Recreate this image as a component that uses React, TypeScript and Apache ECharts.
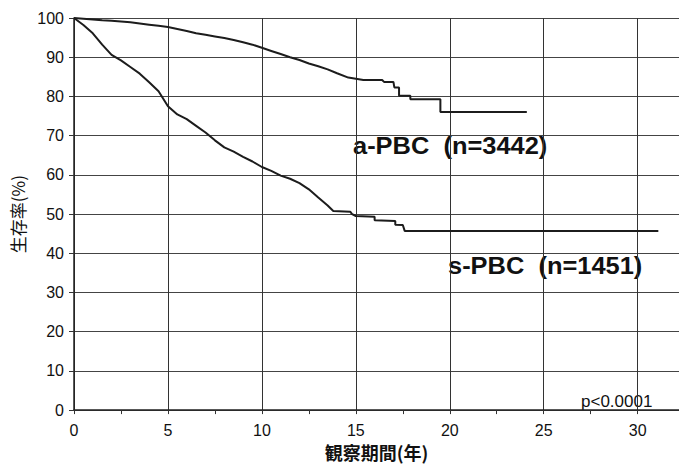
import React, { useEffect, useRef } from "react";
import * as echarts from "echarts";

const xTicks = [0, 5, 10, 15, 20, 25, 30];
const yTicks = [0, 10, 20, 30, 40, 50, 60, 70, 80, 90, 100];

const aPbcYears = [0, 0.5, 1, 1.5, 2, 2.5, 3, 3.5, 4, 4.5, 5, 5.5, 6, 6.5, 7, 7.5, 8, 8.5, 9, 9.5, 10, 10.5, 11, 11.5, 12, 12.5, 13, 13.5, 14, 14.6, 15.4, 16.4, 16.5, 17.0, 17.05, 17.3, 17.3, 17.9, 17.9, 19.5, 19.5, 24.1];
const aPbcSurv = [100, 99.8, 99.6, 99.4, 99.3, 99.1, 98.9, 98.6, 98.3, 98.0, 97.7, 97.2, 96.7, 96.1, 95.7, 95.3, 94.9, 94.4, 93.8, 93.2, 92.4, 91.6, 90.8, 90.0, 89.3, 88.4, 87.7, 86.9, 85.9, 84.8, 84.2, 84.2, 83.7, 83.7, 82.3, 82.3, 80.2, 80.2, 79.3, 79.3, 76.0, 76.0];

const sPbcYears = [0, 0.5, 1, 1.5, 2, 2.5, 3, 3.5, 4, 4.5, 5, 5.5, 6, 6.5, 7, 7.5, 8, 8.5, 9, 9.5, 10, 10.5, 11, 11.5, 12, 12.5, 13, 13.5, 13.8, 14.7, 14.8, 15.0, 16.0, 16.0, 17.1, 17.1, 17.5, 17.6, 31.1];
const sPbcSurv = [100, 98.2, 96.1, 93.2, 90.6, 89.2, 87.5, 85.8, 83.6, 81.3, 77.5, 75.4, 74.2, 72.5, 70.8, 68.8, 67.0, 65.9, 64.6, 63.4, 62.0, 61.0, 59.8, 59.0, 57.9, 56.3, 54.2, 52.2, 50.8, 50.6, 50.0, 49.5, 49.3, 48.4, 48.2, 47.3, 47.2, 45.7, 45.7];

const labelA = "a-PBC  (n=3442)";
const labelS = "s-PBC  (n=1451)";
const pValue = "p<0.0001";
const xTitle = "観察期間(年)";
const yTitle = "生存率(%)";

const LATIN = "'Liberation Sans', Arial, sans-serif";
const CJK = "'Noto Sans CJK JP', 'Liberation Sans', sans-serif";

export default function App() {
  const ref = useRef<HTMLDivElement>(null);
  useEffect(() => {
    if (!ref.current) return;
    const chart = echarts.init(ref.current, null, { renderer: "svg" });
    const lineColor = "#1c1c1c";
    chart.setOption({
      animation: false,
      backgroundColor: "#ffffff",
      grid: { left: 74, top: 18, right: 0, bottom: 51, containLabel: false },
      xAxis: {
        type: "value",
        min: 0,
        max: 32.2,
        interval: 5,
        name: xTitle,
        nameLocation: "middle",
        nameGap: 30,
        nameTextStyle: { fontFamily: CJK, fontSize: 18, fontWeight: "bold", color: "#111" },
        axisLine: { show: true, lineStyle: { color: "#222", width: 1.5 } },
        axisTick: { show: true, inside: false, length: 4, lineStyle: { color: "#333" } },
        minorTick: { show: true, splitNumber: 2, length: 4, lineStyle: { color: "#333" } },
        axisLabel: {
          fontFamily: LATIN,
          fontSize: 16,
          color: "#111",
          margin: 12,
          showMaxLabel: false,
          formatter: (v: number) => (xTicks.indexOf(v) >= 0 ? String(v) : ""),
        },
        splitLine: { show: true, lineStyle: { color: "#333", width: 1 } },
      },
      yAxis: {
        type: "value",
        min: 0,
        max: 100,
        interval: 10,
        name: yTitle,
        nameLocation: "middle",
        nameRotate: 90,
        nameGap: 47,
        nameTextStyle: { fontFamily: CJK, fontSize: 17, color: "#111" },
        axisLine: { show: true, lineStyle: { color: "#222", width: 1.5 } },
        axisTick: { show: true, inside: false, length: 5, lineStyle: { color: "#333" } },
        axisLabel: {
          fontFamily: LATIN,
          fontSize: 16,
          color: "#111",
          margin: 10,
          formatter: (v: number) => (yTicks.indexOf(v) >= 0 ? String(v) : ""),
        },
        splitLine: { show: true, lineStyle: { color: "#444", width: 1 } },
      },
      series: [
        {
          name: "a-PBC",
          type: "line",
          showSymbol: false,
          symbol: "none",
          data: aPbcYears.map((x, i) => [x, aPbcSurv[i]]),
          lineStyle: { color: lineColor, width: 2 },
        },
        {
          name: "s-PBC",
          type: "line",
          showSymbol: false,
          symbol: "none",
          data: sPbcYears.map((x, i) => [x, sPbcSurv[i]]),
          lineStyle: { color: lineColor, width: 2 },
        },
      ],
      graphic: [
        {
          type: "text",
          x: 353,
          y: 134,
          scaleX: 1.06,
          style: { text: labelA, fontFamily: LATIN, fontSize: 24, fontWeight: "bold", fill: "#111" },
        },
        {
          type: "text",
          x: 448,
          y: 254,
          scaleX: 1.06,
          style: { text: labelS, fontFamily: LATIN, fontSize: 24, fontWeight: "bold", fill: "#111" },
        },
        {
          type: "text",
          x: 581,
          y: 393,
          style: { text: pValue, fontFamily: LATIN, fontSize: 17, fill: "#111" },
        },
      ],
    });
    return () => chart.dispose();
  }, []);
  return <div ref={ref} style={{ width: 679, height: 466, position: "fixed", left: 0, top: 0, background: "#fff" }} />;
}
